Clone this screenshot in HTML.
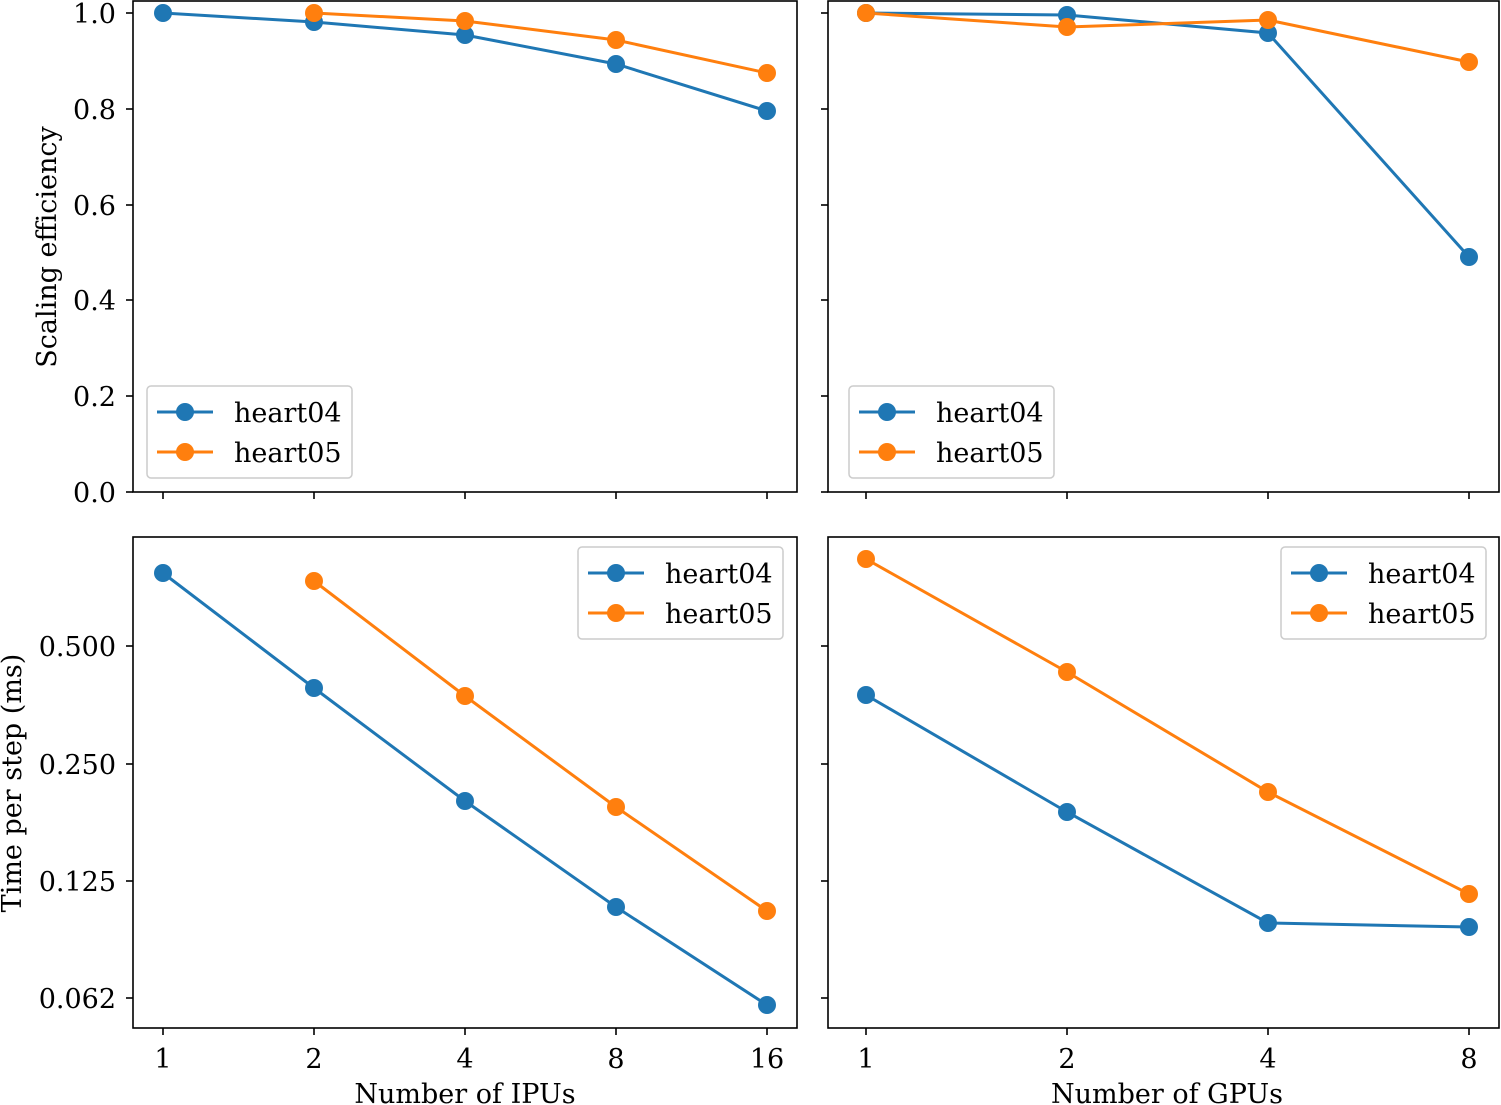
<!DOCTYPE html>
<html><head><meta charset="utf-8"><style>
html,body{margin:0;padding:0;background:#fff;}
svg{display:block;font-family:"DejaVu Serif","Liberation Serif",serif;}
</style></head><body>
<svg width="1501" height="1105" viewBox="0 0 1501 1105" xmlns="http://www.w3.org/2000/svg">
<g fill="none" stroke="#000" stroke-width="1.6">
<rect x="133" y="1" width="664" height="491"/>
<rect x="828" y="1" width="671" height="491"/>
<rect x="133" y="537" width="664" height="491"/>
<rect x="828" y="537" width="671" height="491"/>
</g>
<g stroke="#000" stroke-width="1.6">
<line x1="126" y1="13" x2="133" y2="13"/><line x1="126" y1="109" x2="133" y2="109"/><line x1="126" y1="205" x2="133" y2="205"/><line x1="126" y1="300" x2="133" y2="300"/><line x1="126" y1="396" x2="133" y2="396"/><line x1="126" y1="492" x2="133" y2="492"/>
<line x1="821" y1="13" x2="828" y2="13"/><line x1="821" y1="109" x2="828" y2="109"/><line x1="821" y1="205" x2="828" y2="205"/><line x1="821" y1="300" x2="828" y2="300"/><line x1="821" y1="396" x2="828" y2="396"/><line x1="821" y1="492" x2="828" y2="492"/>
<line x1="126" y1="646" x2="133" y2="646"/><line x1="126" y1="764" x2="133" y2="764"/><line x1="126" y1="881" x2="133" y2="881"/><line x1="126" y1="998" x2="133" y2="998"/>
<line x1="821" y1="646" x2="828" y2="646"/><line x1="821" y1="764" x2="828" y2="764"/><line x1="821" y1="881" x2="828" y2="881"/><line x1="821" y1="998" x2="828" y2="998"/>
<line x1="163" y1="492" x2="163" y2="499"/><line x1="314" y1="492" x2="314" y2="499"/><line x1="465" y1="492" x2="465" y2="499"/><line x1="616" y1="492" x2="616" y2="499"/><line x1="767" y1="492" x2="767" y2="499"/>
<line x1="866" y1="492" x2="866" y2="499"/><line x1="1067" y1="492" x2="1067" y2="499"/><line x1="1268" y1="492" x2="1268" y2="499"/><line x1="1469" y1="492" x2="1469" y2="499"/>
<line x1="163" y1="1028" x2="163" y2="1035"/><line x1="314" y1="1028" x2="314" y2="1035"/><line x1="465" y1="1028" x2="465" y2="1035"/><line x1="616" y1="1028" x2="616" y2="1035"/><line x1="767" y1="1028" x2="767" y2="1035"/>
<line x1="866" y1="1028" x2="866" y2="1035"/><line x1="1067" y1="1028" x2="1067" y2="1035"/><line x1="1268" y1="1028" x2="1268" y2="1035"/><line x1="1469" y1="1028" x2="1469" y2="1035"/>
</g>
<g font-size="27" fill="#000" text-anchor="end">
<text x="116" y="23">1.0</text><text x="116" y="119">0.8</text><text x="116" y="215">0.6</text><text x="116" y="310">0.4</text><text x="116" y="406">0.2</text><text x="116" y="502">0.0</text>
<text x="116" y="656">0.500</text><text x="116" y="774">0.250</text><text x="116" y="891">0.125</text><text x="116" y="1008">0.062</text>
</g>
<g font-size="27" fill="#000" text-anchor="middle">
<text x="163" y="1068">1</text><text x="314" y="1068">2</text><text x="465" y="1068">4</text><text x="616" y="1068">8</text><text x="767" y="1068">16</text>
<text x="866" y="1068">1</text><text x="1067" y="1068">2</text><text x="1268" y="1068">4</text><text x="1469" y="1068">8</text>
<text x="465" y="1103">Number of IPUs</text><text x="1167" y="1103">Number of GPUs</text>
<text transform="translate(56,247) rotate(-90)">Scaling efficiency</text>
<text transform="translate(21,783) rotate(-90)">Time per step (ms)</text>
</g>
<g fill="none" stroke-width="3">
<polyline stroke="#1f77b4" points="163,13 314,22 465,35 616,64 767,111"/>
<polyline stroke="#ff7f0e" points="314,13 465,21 616,40 767,73"/>
<polyline stroke="#1f77b4" points="866,13 1067,15 1268,33 1469,257"/>
<polyline stroke="#ff7f0e" points="866,13 1067,27 1268,20 1469,62"/>
<polyline stroke="#1f77b4" points="163,573 314,688 465,801 616,907 767,1005"/>
<polyline stroke="#ff7f0e" points="314,581 465,696 616,807 767,911"/>
<polyline stroke="#1f77b4" points="866,695 1067,812 1268,923 1469,927"/>
<polyline stroke="#ff7f0e" points="866,559 1067,672 1268,792 1469,894"/>
</g>
<g fill="#1f77b4">
<circle cx="163" cy="13" r="9"/><circle cx="314" cy="22" r="9"/><circle cx="465" cy="35" r="9"/><circle cx="616" cy="64" r="9"/><circle cx="767" cy="111" r="9"/>
<circle cx="866" cy="13" r="9"/><circle cx="1067" cy="15" r="9"/><circle cx="1268" cy="33" r="9"/><circle cx="1469" cy="257" r="9"/>
<circle cx="163" cy="573" r="9"/><circle cx="314" cy="688" r="9"/><circle cx="465" cy="801" r="9"/><circle cx="616" cy="907" r="9"/><circle cx="767" cy="1005" r="9"/>
<circle cx="866" cy="695" r="9"/><circle cx="1067" cy="812" r="9"/><circle cx="1268" cy="923" r="9"/><circle cx="1469" cy="927" r="9"/>
</g>
<g fill="#ff7f0e">
<circle cx="314" cy="13" r="9"/><circle cx="465" cy="21" r="9"/><circle cx="616" cy="40" r="9"/><circle cx="767" cy="73" r="9"/>
<circle cx="866" cy="13" r="9"/><circle cx="1067" cy="27" r="9"/><circle cx="1268" cy="20" r="9"/><circle cx="1469" cy="62" r="9"/>
<circle cx="314" cy="581" r="9"/><circle cx="465" cy="696" r="9"/><circle cx="616" cy="807" r="9"/><circle cx="767" cy="911" r="9"/>
<circle cx="866" cy="559" r="9"/><circle cx="1067" cy="672" r="9"/><circle cx="1268" cy="792" r="9"/><circle cx="1469" cy="894" r="9"/>
</g>
<g font-size="27" fill="#000">
<g transform="translate(147,386)">
<rect x="0" y="0" width="205" height="92" rx="4" fill="#fff" fill-opacity="0.8" stroke="#ccc" stroke-width="1.5"/>
<line x1="10" y1="26" x2="66" y2="26" stroke="#1f77b4" stroke-width="3"/><circle cx="38" cy="26" r="9" fill="#1f77b4"/>
<line x1="10" y1="66" x2="66" y2="66" stroke="#ff7f0e" stroke-width="3"/><circle cx="38" cy="66" r="9" fill="#ff7f0e"/>
<text x="87" y="36">heart04</text><text x="87" y="76">heart05</text>
</g>
<g transform="translate(849,386)">
<rect x="0" y="0" width="205" height="92" rx="4" fill="#fff" fill-opacity="0.8" stroke="#ccc" stroke-width="1.5"/>
<line x1="10" y1="26" x2="66" y2="26" stroke="#1f77b4" stroke-width="3"/><circle cx="38" cy="26" r="9" fill="#1f77b4"/>
<line x1="10" y1="66" x2="66" y2="66" stroke="#ff7f0e" stroke-width="3"/><circle cx="38" cy="66" r="9" fill="#ff7f0e"/>
<text x="87" y="36">heart04</text><text x="87" y="76">heart05</text>
</g>
<g transform="translate(578,547)">
<rect x="0" y="0" width="205" height="92" rx="4" fill="#fff" fill-opacity="0.8" stroke="#ccc" stroke-width="1.5"/>
<line x1="10" y1="26" x2="66" y2="26" stroke="#1f77b4" stroke-width="3"/><circle cx="38" cy="26" r="9" fill="#1f77b4"/>
<line x1="10" y1="66" x2="66" y2="66" stroke="#ff7f0e" stroke-width="3"/><circle cx="38" cy="66" r="9" fill="#ff7f0e"/>
<text x="87" y="36">heart04</text><text x="87" y="76">heart05</text>
</g>
<g transform="translate(1281,547)">
<rect x="0" y="0" width="205" height="92" rx="4" fill="#fff" fill-opacity="0.8" stroke="#ccc" stroke-width="1.5"/>
<line x1="10" y1="26" x2="66" y2="26" stroke="#1f77b4" stroke-width="3"/><circle cx="38" cy="26" r="9" fill="#1f77b4"/>
<line x1="10" y1="66" x2="66" y2="66" stroke="#ff7f0e" stroke-width="3"/><circle cx="38" cy="66" r="9" fill="#ff7f0e"/>
<text x="87" y="36">heart04</text><text x="87" y="76">heart05</text>
</g>
</g>
</svg>
</body></html>
